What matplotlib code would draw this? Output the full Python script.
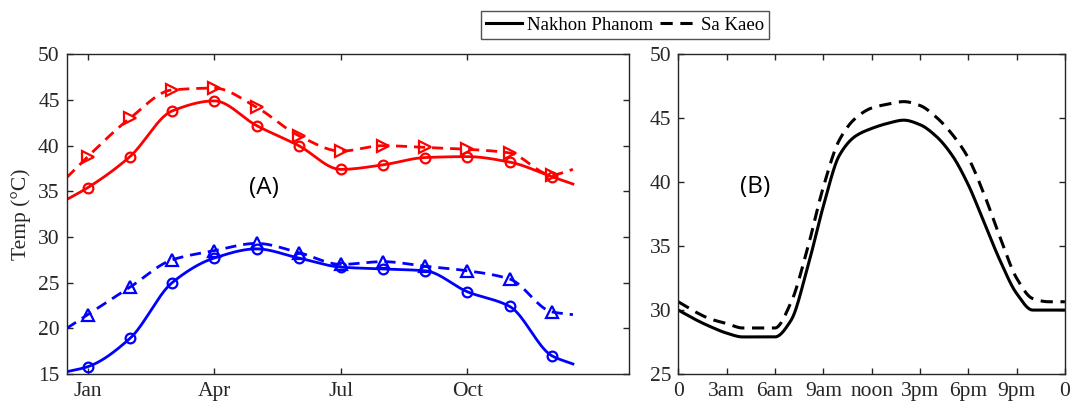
import numpy as np
import matplotlib
matplotlib.use('Agg')
import matplotlib.pyplot as plt

# monthly data (Jan..Dec), plus edge values at half months
months = [1, 2, 3, 4, 5, 6, 7, 8, 9, 10, 11, 12]
edge_x = [0.5, 12.5]
np_max = [35.4, 38.8, 43.8, 44.9, 42.2, 40.0, 37.4, 37.9, 38.7, 38.8, 38.2, 36.6]
np_max_edge = [34.1, 35.8]
sk_max = [38.8, 43.0, 46.1, 46.3, 44.2, 41.1, 39.4, 40.0, 39.8, 39.6, 39.2, 36.8]
sk_max_edge = [36.5, 37.4]
np_min = [15.8, 18.9, 25.0, 27.7, 28.7, 27.7, 26.7, 26.5, 26.3, 24.0, 22.4, 17.0]
np_min_edge = [15.25, 16.1]
sk_min = [21.5, 24.5, 27.5, 28.5, 29.3, 28.3, 27.0, 27.3, 26.8, 26.3, 25.4, 21.8]
sk_min_edge = [20.0, 21.5]
month_ticks = [1, 4, 7, 10]
month_labels = ['Jan', 'Apr', 'Jul', 'Oct']

# hourly data (0..24 h)
hours = list(range(25))
np_day = [30.0, 29.3, 28.7, 28.2, 27.9, 27.9, 27.9, 29.2, 33.2, 38.1, 42.1, 43.6, 44.2,
          44.6, 44.85, 44.5, 43.6, 42.1, 39.8, 36.8, 33.8, 31.3, 30.0, 30.0, 30.0]
sk_day = [30.65, 29.9, 29.3, 28.95, 28.6, 28.6, 28.6, 30.6, 34.7, 39.6, 43.3, 45.0, 45.8,
          46.1, 46.3, 46.0, 45.1, 43.75, 41.9, 39.0, 35.6, 32.5, 30.9, 30.65, 30.65]
hour_ticks = [0, 3, 6, 9, 12, 15, 18, 21, 24]
hour_labels = ['0', '3am', '6am', '9am', 'noon', '3pm', '6pm', '9pm', '0']


def pchip(x, y, xs):
    x = np.asarray(x, float)
    y = np.asarray(y, float)
    h = np.diff(x)
    d = np.diff(y) / h
    m = np.zeros_like(y)
    for k in range(1, len(y) - 1):
        if d[k - 1] * d[k] > 0:
            w1 = 2 * h[k] + h[k - 1]
            w2 = h[k] + 2 * h[k - 1]
            m[k] = (w1 + w2) / (w1 / d[k - 1] + w2 / d[k])
    m[0] = d[0]
    m[-1] = d[-1]
    i = np.clip(np.searchsorted(x, xs) - 1, 0, len(h) - 1)
    t = (xs - x[i]) / h[i]
    return ((2 * t**3 - 3 * t**2 + 1) * y[i] + (t**3 - 2 * t**2 + t) * h[i] * m[i]
            + (-2 * t**3 + 3 * t**2) * y[i + 1] + (t**3 - t**2) * h[i] * m[i + 1])


plt.rcParams['font.family'] = 'Liberation Serif'
plt.rcParams['font.size'] = 14
dark = '#262626'

fig = plt.figure(figsize=(10.84, 4.08), dpi=100)
ax1 = fig.add_axes([0.0615, 0.0833, 0.5188, 0.7836])
ax2 = fig.add_axes([0.6257, 0.0833, 0.3567, 0.7836])

xs = np.linspace(0.5, 12.5, 400)
dash = (4, 2.5)
for vals, edge, col, ls, mk in [(np_max, np_max_edge, 'red', '-', 'o'),
                                (sk_max, sk_max_edge, 'red', '--', '>'),
                                (np_min, np_min_edge, 'blue', '-', 'o'),
                                (sk_min, sk_min_edge, 'blue', '--', '^')]:
    kx = [edge_x[0]] + months + [edge_x[1]]
    ky = [edge[0]] + vals + [edge[1]]
    line, = ax1.plot(xs, pchip(kx, ky, xs), color=col, ls=ls, lw=2)
    if ls == '--':
        line.set_dashes(dash)
    ax1.plot(months, vals, ls='none', marker=mk, ms=8 if mk != 'o' else 7,
             mfc='none', mec=col, mew=1.6)

ax1.set_xlim(0.5, 13.83)
ax1.set_ylim(15, 50)
ax1.set_xticks(month_ticks)
ax1.set_xticklabels(month_labels)
ax1.set_yticks(range(15, 51, 5))
ax1.set_ylabel('Temp (°C)', color=dark, fontsize=15.5, labelpad=5)
ax1.text(5.17, 35.4, '(A)', family='Open Sans', fontsize=17.5, ha='center', va='center')

hs = np.linspace(0, 24, 500)
l1, = ax2.plot(hs, pchip(hours, np_day, hs), color='black', lw=2.2, label='Nakhon Phanom')
l2, = ax2.plot(hs, pchip(hours, sk_day, hs), color='black', lw=2.2, ls='--', label='Sa Kaeo')
l2.set_dashes(dash)
ax2.set_xlim(0, 24)
ax2.set_ylim(25, 50)
ax2.set_xticks(hour_ticks)
ax2.set_xticklabels(hour_labels)
ax2.set_yticks(range(25, 51, 5))
ax2.text(4.8, 39.6, '(B)', family='Open Sans', fontsize=17.5, ha='center', va='center')

for ax in (ax1, ax2):
    ax.tick_params(direction='in', top=True, right=True, length=4.5, width=1,
                   colors=dark, labelcolor=dark, labelsize=15.5)
    ax.tick_params(axis='y', pad=5)
    ax.tick_params(axis='x', pad=6)
    for s in ax.spines.values():
        s.set_color(dark)
        s.set_linewidth(1)

leg = fig.legend(handles=[l1, l2], loc='center', bbox_to_anchor=(0.5766, 0.9387), ncol=2,
                 handlelength=1.9, handletextpad=0.25, columnspacing=0.4, borderpad=0.3,
                 fancybox=False, edgecolor=dark, fontsize=13.5)
leg.get_frame().set_linewidth(1)

plt.savefig('out.png', dpi=100)
